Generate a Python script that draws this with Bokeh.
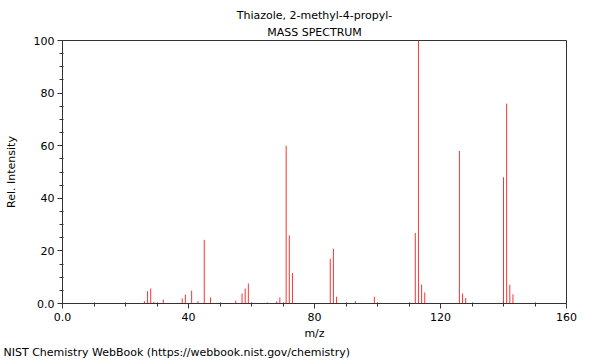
from bokeh.plotting import figure
from bokeh.models import FixedTicker, Title, Range1d
from bokeh.embed import file_html
from bokeh.resources import INLINE

mz = [26, 27, 28, 29, 32, 38, 39, 41, 43, 45, 47, 55, 57, 58, 59, 65, 68, 69,
      71, 72, 73, 85, 86, 87, 93, 99, 112, 113, 114, 115, 126, 127, 128,
      140, 141, 142, 143]
intensity = [0.9, 4.7, 5.7, 0.6, 1.5, 1.9, 3.4, 4.9, 0.9, 24.2, 2.3, 1.1, 3.8,
             5.7, 7.6, 0.4, 0.8, 2.3, 60.0, 25.9, 11.6, 17.0, 20.8, 2.6, 0.9,
             2.6, 26.8, 100.0, 7.2, 4.2, 58.0, 3.8, 2.1, 48.0, 76.0, 7.1, 3.5]

x_ticks = [0, 40, 80, 120, 160]
x_minor = [10, 20, 30, 50, 60, 70, 90, 100, 110, 130, 140, 150]
y_ticks = [0, 20, 40, 60, 80, 100]
y_minor = [5, 10, 15, 25, 30, 35, 45, 50, 55, 65, 70, 75, 85, 90, 95]

title_lines = ["Thiazole, 2-methyl-4-propyl-", "MASS SPECTRUM"]
footer_text = "NIST Chemistry WebBook (https://webbook.nist.gov/chemistry)"

FONT = "DejaVu Sans"

p = figure(width=600, height=360, output_backend="svg", toolbar_location=None,
           x_range=Range1d(0, 160), y_range=Range1d(0, 100),
           min_border_left=62, min_border_right=34, min_border_top=40,
           min_border_bottom=56)
p.background_fill_color = "white"
p.border_fill_color = "white"
p.outline_line_color = "#333333"
p.xgrid.visible = False
p.ygrid.visible = False

p.segment(x0=mz, y0=[0] * len(mz), x1=mz, y1=intensity,
          line_color="#ff3333", line_width=1)

for ax in (p.xaxis[0], p.yaxis[0]):
    ax.axis_line_color = "#333333"
    ax.major_tick_line_color = "#333333"
    ax.minor_tick_line_color = "#333333"
    ax.major_tick_in = 0
    ax.major_tick_out = 5
    ax.minor_tick_in = 1
    ax.minor_tick_out = 3
    ax.major_label_text_font = FONT
    ax.major_label_text_font_size = "11px"
    ax.major_label_text_color = "black"
    ax.axis_label_text_font = FONT
    ax.axis_label_text_font_size = "11px"
    ax.axis_label_text_font_style = "normal"
    ax.axis_label_text_color = "black"

p.xaxis[0].ticker = FixedTicker(ticks=x_ticks, minor_ticks=x_minor)
p.yaxis[0].ticker = FixedTicker(ticks=y_ticks, minor_ticks=y_minor)
p.xaxis[0].major_label_overrides = {0: "0.0"}
p.yaxis[0].major_label_overrides = {0: "0.0"}
p.xaxis[0].axis_label = "m/z"
p.yaxis[0].axis_label = "Rel. Intensity"
p.xaxis[0].major_label_standoff = 4
p.xaxis[0].axis_label_standoff = 3
p.yaxis[0].major_label_standoff = 3
p.yaxis[0].axis_label_standoff = 13

p.add_layout(Title(text=title_lines[1], align="center", text_font=FONT,
                   text_font_size="11px", text_font_style="normal",
                   text_color="black", standoff=3), "above")
p.add_layout(Title(text=title_lines[0], align="center",
                   text_font=FONT, text_font_size="11px",
                   text_font_style="normal", text_color="black", standoff=2),
             "above")
p.add_layout(Title(text=footer_text, align="left", offset=-59, text_font=FONT,
                   text_font_size="11px", text_font_style="normal",
                   text_color="black", standoff=3), "below")

open("out.html", "w").write(file_html(p, INLINE))
